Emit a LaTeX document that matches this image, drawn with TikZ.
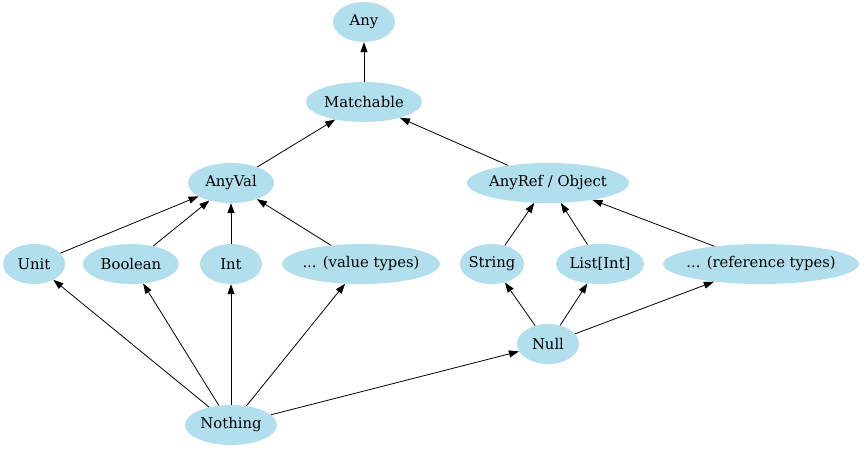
\documentclass[tikz,border=0pt]{standalone}
\usepackage{fontspec}
\setmainfont{DejaVu Serif}
\usetikzlibrary{arrows.meta,shapes.geometric}
\definecolor{nodefill}{HTML}{B2DFEE}
\newcommand{\lbl}[1]{\makebox[0pt]{#1}}
\tikzset{
  tnode/.style={ellipse, fill=nodefill, draw=none, inner sep=0pt, minimum height=40pt, font=\fontsize{14.8}{16}\selectfont},
  edge/.style={-{Triangle[length=10pt,width=7pt]}, line width=0.8pt}
}
\begin{document}
\begin{tikzpicture}[x=1pt,y=-1pt]
\useasboundingbox (0,0) rectangle (868,452);
\node[tnode, minimum width=62pt] (any) at (364,22) {\lbl{Any}};
\node[tnode, minimum width=116pt] (match) at (364,102) {\lbl{Matchable}};
\node[tnode, minimum width=86pt] (anyval) at (231,183) {\lbl{AnyVal}};
\node[tnode, minimum width=162pt] (anyref) at (548,183) {\lbl{AnyRef / Object}};
\node[tnode, minimum width=62pt] (unit) at (34,264) {\lbl{Unit}};
\node[tnode, minimum width=96pt] (bool) at (131,264) {\lbl{Boolean}};
\node[tnode, minimum width=62pt] (int) at (231,264) {\lbl{Int}};
\node[tnode, minimum width=158pt] (vt) at (361,264) {\lbl{... (value types)}};
\node[tnode, minimum width=64pt] (string) at (492,264) {\lbl{String}};
\node[tnode, minimum width=88pt] (list) at (600,264) {\lbl{List[Int]}};
\node[tnode, minimum width=196pt] (rt) at (761,264) {\lbl{... (reference types)}};
\node[tnode, minimum width=62pt] (null) at (548,344) {\lbl{Null}};
\node[tnode, minimum width=92pt] (nothing) at (231,425) {\lbl{Nothing}};
\draw[edge] (match) -- (any);
\draw[edge] (anyval) -- (match);
\draw[edge] (anyref) -- (match);
\draw[edge] (unit) -- (anyval);
\draw[edge] (bool) -- (anyval);
\draw[edge] (int) -- (anyval);
\draw[edge] (vt) -- (anyval);
\draw[edge] (string) -- (anyref);
\draw[edge] (list) -- (anyref);
\draw[edge] (rt) -- (anyref);
\draw[edge] (nothing) -- (unit);
\draw[edge] (nothing) -- (bool);
\draw[edge] (nothing) -- (int);
\draw[edge] (nothing) -- (vt);
\draw[edge] (nothing) -- (null);
\draw[edge] (null) -- (string);
\draw[edge] (null) -- (list);
\draw[edge] (null) -- (rt);
\end{tikzpicture}
\end{document}
